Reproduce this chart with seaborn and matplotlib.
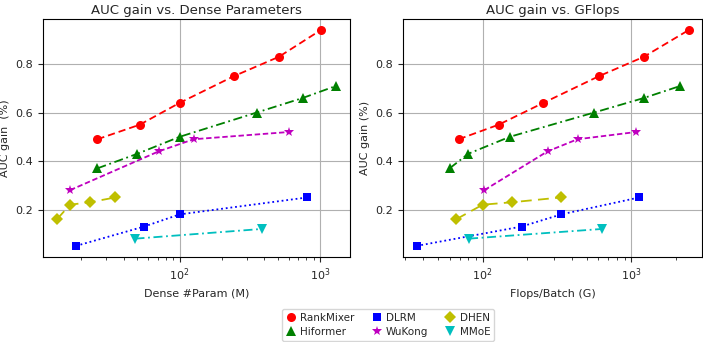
import matplotlib
matplotlib.use("Agg")
import matplotlib.pyplot as plt
import seaborn as sns
import pandas as pd
from matplotlib.lines import Line2D

sns.set_style("ticks")
plt.rcParams['font.family'] = ['DejaVu Sans']

models = ["RankMixer", "Hiformer", "DLRM", "WuKong", "DHEN", "MMoE"]

rankmixer_auc = [0.49, 0.55, 0.64, 0.75, 0.83, 0.94]
rankmixer_params = [26, 52, 100, 243, 509, 1010]
rankmixer_flops = [69, 128, 256, 604, 1211, 2420]

hiformer_auc = [0.37, 0.43, 0.50, 0.60, 0.66, 0.71]
hiformer_params = [26, 50, 100, 353, 751, 1300]
hiformer_flops = [60, 80, 152, 560, 1210, 2133]

dlrm_auc = [0.05, 0.13, 0.18, 0.25]
dlrm_params = [18.3, 56, 100, 811]
dlrm_flops = [36, 183, 337, 1130]

wukong_auc = [0.28, 0.44, 0.49, 0.52]
wukong_params = [16.6, 71, 126, 604]
wukong_flops = [102.6, 273, 434, 1079]

dhen_auc = [0.16, 0.22, 0.23, 0.25]
dhen_params = [13.4, 16.6, 22.9, 34.9]
dhen_flops = [66.4, 100, 157, 337]

mmoe_auc = [0.08, 0.12]
mmoe_params = [48.5, 385]
mmoe_flops = [81, 635]

series = {
    "RankMixer": (rankmixer_params, rankmixer_flops, rankmixer_auc),
    "Hiformer": (hiformer_params, hiformer_flops, hiformer_auc),
    "DLRM": (dlrm_params, dlrm_flops, dlrm_auc),
    "WuKong": (wukong_params, wukong_flops, wukong_auc),
    "DHEN": (dhen_params, dhen_flops, dhen_auc),
    "MMoE": (mmoe_params, mmoe_flops, mmoe_auc),
}

styles = {
    "RankMixer": dict(color="r", marker="o", dashes=(4, 2.2), ms=6.5),
    "Hiformer": dict(color="g", marker="^", dashes=(5, 2, 1, 2), ms=6.5),
    "DLRM": dict(color="b", marker="s", dashes=(1, 1.6), ms=6),
    "WuKong": dict(color="m", marker="*", dashes=(3, 1.5), ms=7.5),
    "DHEN": dict(color="y", marker="D", dashes=(6, 3.5), ms=6),
    "MMoE": dict(color="c", marker="v", dashes=(5, 2, 1, 2), ms=6.5),
}

fig = plt.figure(figsize=(7.03, 3.42), dpi=100)
ax1 = fig.add_axes([0.0612, 0.2494, 0.4367, 0.694])
ax2 = fig.add_axes([0.5733, 0.2494, 0.4255, 0.694])

for ax, idx in ((ax1, 0), (ax2, 1)):
    for name in models:
        xs = series[name][idx]
        ys = series[name][2]
        df = pd.DataFrame({"x": xs, "y": ys})
        st = styles[name]
        sns.lineplot(data=df, x="x", y="y", ax=ax, sort=False, color=st["color"],
                     marker=st["marker"], markersize=st["ms"],
                     markeredgewidth=0, linewidth=1.3, dashes=st["dashes"],
                     legend=False)
    ax.set_xscale("log")
    ax.grid(True, which="major", color="#b0b0b0", linewidth=0.8)
    for s in ax.spines.values():
        s.set_color("black")
        s.set_linewidth(0.8)
    ax.tick_params(labelsize=8, length=3.5, width=0.8, direction="out")
    ax.tick_params(which="minor", length=2, width=0.6)
    ax.set_yticks([0.2, 0.4, 0.6, 0.8])

ax1.set_title("AUC gain vs. Dense Parameters", fontsize=9.5, pad=4)
ax1.set_xlabel("Dense #Param (M)", fontsize=8)
ax1.set_ylabel("AUC gain  (%)", fontsize=8)
ax2.set_title("AUC gain vs. GFlops", fontsize=9.5, pad=4)
ax2.set_xlabel("Flops/Batch (G)", fontsize=8)
ax2.set_ylabel("AUC gain (%)", fontsize=8)

handles = [Line2D([], [], linestyle="none", color=styles[n]["color"], marker=styles[n]["marker"],
                  markersize=styles[n]["ms"], markeredgewidth=0)
           for n in models]
fig.legend(handles, models, loc="upper center", bbox_to_anchor=(0.552, 0.113), ncol=3,
           fontsize=7.5, frameon=True, handletextpad=0.4, columnspacing=1.6,
           handlelength=1.0, borderpad=0.4, labelspacing=0.4)

fig.savefig("out.png", dpi=100)
